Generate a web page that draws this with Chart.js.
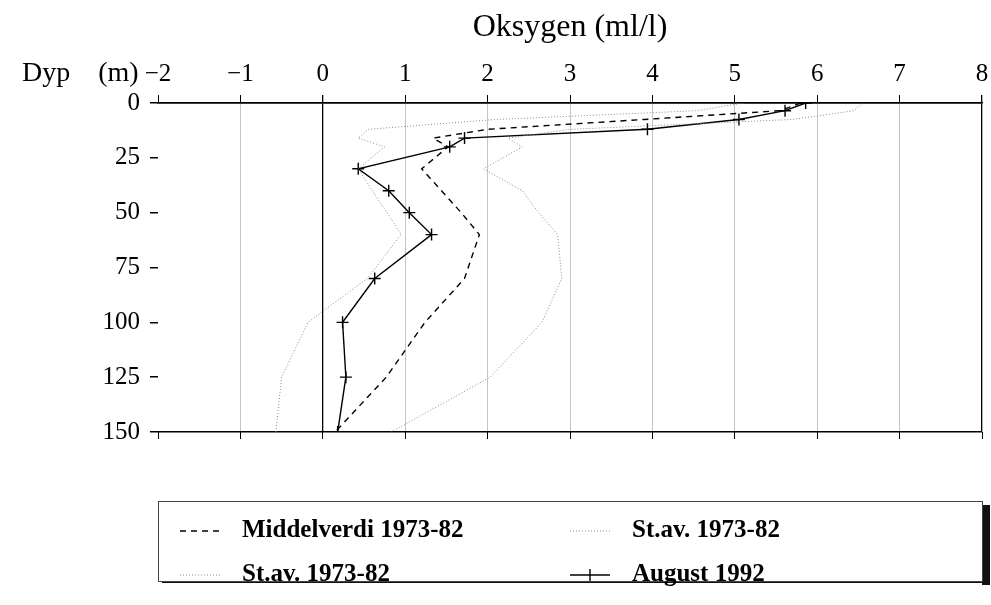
<!DOCTYPE html>
<html>
<head>
<meta charset="utf-8">
<script src="https://cdn.jsdelivr.net/npm/chart.js@4/dist/chart.umd.min.js"></script>
<style>
  html, body { margin: 0; padding: 0; background: #fff; }
  #c { display: block; }
</style>
</head>
<body>
<canvas id="c" width="991" height="605"></canvas>
<script>
// depth (m) and oxygen (ml/l)
const depths = [0, 3.5, 7.5, 12, 16, 20, 30, 40, 50, 60, 80, 100, 125, 150];
const middel = [5.8, 5.55, 3.9, 2.0, 1.34, 1.52, 1.2, 1.44, 1.68, 1.9, 1.72, 1.24, 0.77, 0.15];
const stavHigh = [6.55, 6.45, 5.7, 3.0, 2.25, 2.42, 1.95, 2.42, 2.62, 2.85, 2.9, 2.66, 2.03, 0.83];
const stavLow = [5.1, 4.55, 2.1, 0.55, 0.43, 0.75, 0.43, 0.6, 0.78, 0.95, 0.54, -0.18, -0.5, -0.57];
const aug1992 = [5.86, 5.61, 5.05, 3.94, 1.72, 1.54, 0.43, 0.80, 1.05, 1.32, 0.63, 0.24, 0.28, 0.18];

const labels = ["Middelverdi 1973-82", "St.av. 1973-82", "St.av. 1973-82", "August 1992"];
const FONT = '"Liberation Serif", "DejaVu Serif", serif';

const toPoints = (vals) => vals.map((v, i) => ({ x: v, y: depths[i] }));

const dotted = {
  borderColor: "#8a8a8a",
  borderWidth: 1,
  borderDash: [1, 2],
  pointRadius: 0,
};

const isSolidX = (c) => {
  const v = c.tick && c.tick.value;
  return v === 0 || v === 8;
};

// legend in a framed box under the plot, two columns
const legendBox = {
  id: "legendBox",
  afterDraw(chart) {
    const { ctx, chartArea: area } = chart;
    ctx.save();

    ctx.fillStyle = "#000";
    ctx.font = "28px " + FONT;
    ctx.textAlign = "left";
    ctx.textBaseline = "middle";
    ctx.fillText("Dyp    (m)", 22, 74);

    const bx = area.left, by = 501, bw = area.right - area.left, bh = 80;
    ctx.fillStyle = "#111";
    ctx.fillRect(bx + bw, by + 4, 8, bh);
    ctx.fillRect(bx + 4, by + bh, bw, 2);
    ctx.strokeStyle = "#444";
    ctx.lineWidth = 1;
    ctx.strokeRect(bx + 0.5, by + 0.5, bw, bh);

    const cols = [bx + 22, bx + 412];
    const rows = [by + 30, by + 74];
    const place = [[0, 0], [1, 0], [0, 1], [1, 1]];
    chart.data.datasets.forEach((ds, i) => {
      const x = cols[place[i][0]];
      const y = rows[place[i][1]];
      ctx.beginPath();
      ctx.setLineDash(ds.borderDash || []);
      ctx.strokeStyle = ds.borderColor;
      ctx.lineWidth = ds.borderWidth;
      ctx.moveTo(x, y);
      ctx.lineTo(x + 40, y);
      ctx.stroke();
      ctx.setLineDash([]);
      if (ds.pointStyle === "cross") {
        ctx.beginPath();
        ctx.moveTo(x + 20, y - ds.pointRadius);
        ctx.lineTo(x + 20, y + ds.pointRadius);
        ctx.stroke();
      }
      ctx.fillStyle = "#000";
      ctx.font = "bold 25px " + FONT;
      ctx.fillText(labels[i], x + 62, y);
    });
    ctx.restore();
  },
};

new Chart(document.getElementById("c"), {
  type: "scatter",
  data: {
    datasets: [
      {
        label: labels[0],
        data: toPoints(middel),
        showLine: true,
        borderColor: "#000",
        borderWidth: 1.4,
        borderDash: [6, 5],
        pointRadius: 0,
      },
      { label: labels[1], data: toPoints(stavHigh), showLine: true, ...dotted },
      { label: labels[2], data: toPoints(stavLow), showLine: true, ...dotted },
      {
        label: labels[3],
        data: toPoints(aug1992),
        showLine: true,
        borderColor: "#000",
        borderWidth: 1.4,
        pointStyle: "cross",
        pointRadius: 6,
        pointBorderColor: "#000",
        pointBorderWidth: 1.4,
      },
    ],
  },
  options: {
    responsive: false,
    animation: false,
    layout: { padding: { left: 98, right: 9, top: 0, bottom: 166 } },
    plugins: { legend: { display: false }, tooltip: { enabled: false } },
    scales: {
      x: {
        type: "linear",
        position: "top",
        min: -2,
        max: 8,
        ticks: {
          stepSize: 1,
          color: "#000",
          font: { family: FONT, size: 25 },
          padding: 6,
          callback: (v) => (v < 0 ? "\u2212" + Math.abs(v) : String(v)),
        },
        grid: {
          color: (c) => {
            const v = c.tick && c.tick.value;
            if (v === -2) return "rgba(0,0,0,0)";
            return isSolidX(c) ? "#000" : "#c4c4c4";
          },
          dash: (c) => (isSolidX(c) ? [] : [1, 2]),
          borderDash: (c) => (isSolidX(c) ? [] : [1, 2]),
          lineWidth: (c) => (isSolidX(c) ? 1.3 : 1),
          tickColor: "#000",
          tickLength: 8,
          tickBorderDash: [],
        },
        border: { display: true, color: "#000", width: 1.5 },
        title: {
          display: true,
          text: "Oksygen (ml/l)",
          color: "#000",
          font: { family: FONT, size: 32 },
          padding: { top: 8, bottom: 0 },
        },
        afterFit: (s) => {
          s.height = 103;
          s.paddingLeft = 0;
          s.paddingRight = 0;
        },
      },
      xb: {
        type: "linear",
        position: "bottom",
        min: -2,
        max: 8,
        ticks: { display: false, stepSize: 1 },
        grid: { drawOnChartArea: false, tickLength: 7, tickColor: "#000" },
        border: { display: false },
        afterFit: (s) => { s.height = 7; },
      },
      y: {
        type: "linear",
        reverse: true,
        min: 0,
        max: 150,
        ticks: {
          stepSize: 25,
          color: "#000",
          font: { family: FONT, size: 25 },
          padding: 10,
        },
        grid: {
          color: (c) => {
            const v = c.tick && c.tick.value;
            return v === 0 || v === 150 ? "#000" : "rgba(0,0,0,0)";
          },
          lineWidth: 1.5,
          tickColor: "#000",
          tickLength: 8,
        },
        border: { display: false },
        afterFit: (s) => { s.width = 60; },
      },
    },
  },
  plugins: [legendBox],
});
</script>
</body>
</html>
